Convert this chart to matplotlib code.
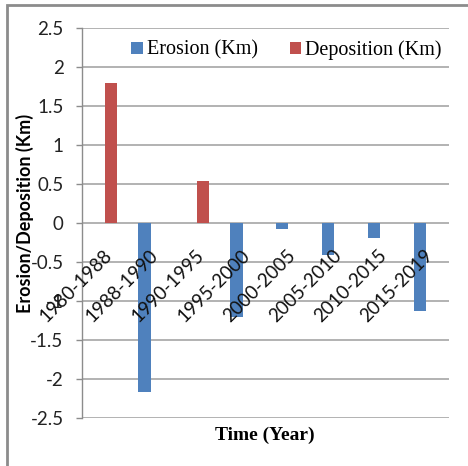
import matplotlib.pyplot as plt
import matplotlib.patches as mpatches
import numpy as np

periods = ["1980-1988", "1988-1990", "1990-1995", "1995-2000",
           "2000-2005", "2005-2010", "2010-2015", "2015-2019"]
erosion = [0, -2.17, 0, -1.21, -0.08, -0.41, -0.19, -1.13]
deposition = [1.80, 0, 0.54, 0, 0, 0, 0, 0]
y_ticks = [2.5, 2, 1.5, 1, 0.5, 0, -0.5, -1, -1.5, -2, -2.5]
y_tick_labels = ["2.5", "2", "1.5", "1", "0.5", "0", "-0.5", "-1", "-1.5", "-2", "-2.5"]

BLUE = "#4F81BD"
RED = "#C0504D"
GRID = "#A6A6A6"

fig = plt.figure(figsize=(4.68, 4.66), dpi=100)
fig.patch.set_facecolor("white")

# outer chart frame (runs off the right and bottom of the canvas)
frame = mpatches.Rectangle((7 / 468, -0.05), 1.2, 1 - 5 / 466 + 0.05,
                           transform=fig.transFigure, fill=False,
                           edgecolor="#8C8C8C", linewidth=2, clip_on=False)
fig.patches.append(frame)

ax = fig.add_axes([82 / 468, 1 - 418 / 466, 367 / 468, 390 / 466])

x = np.arange(len(periods))
w = 0.27
ax.bar(x - w / 2, erosion, width=w, color=BLUE, label="Erosion (Km)", zorder=3)
ax.bar(x + w / 2, deposition, width=w, color=RED, label="Deposition (Km)", zorder=3)

ax.set_xlim(-0.5, len(periods) - 0.5)
ax.set_ylim(-2.5, 2.5)
ax.set_yticks(y_ticks)
ax.set_yticklabels(y_tick_labels, fontfamily="Lato", fontsize=13.5, color="#222222")
ax.tick_params(axis="y", length=4.3, width=1, color="#8C8C8C", pad=9)
ax.set_xticks([])

for y in y_ticks:
    ax.axhline(y, color=GRID, linewidth=1.2, zorder=1)

for s in ["top", "right", "bottom"]:
    ax.spines[s].set_visible(False)
ax.spines["left"].set_color("#8C8C8C")
ax.spines["left"].set_linewidth(1)

# rotated category labels sitting just below the zero line
for i, lab in enumerate(periods):
    ax.annotate(lab, xy=(i, 0), xycoords="data", xytext=(3, -21),
                textcoords="offset points", rotation=45,
                rotation_mode="anchor", ha="right", va="center",
                fontfamily="Lato", fontsize=13.5, color="#111111", zorder=4)

ax.set_ylabel("Erosion/Deposition (Km)", fontfamily="Lato", fontweight="bold",
              fontsize=13)
ax.yaxis.set_label_coords(-0.132, 0.525)

fig.text(265 / 468, 1 - 435 / 466, "Time (Year)", ha="center", va="center",
         fontfamily="Liberation Serif", fontweight="bold", fontsize=14)

leg = ax.legend(loc="center", bbox_to_anchor=(0.557, 1 - 22 / 390), ncol=2,
                frameon=False, prop={"family": "Liberation Serif", "size": 14.5},
                handlelength=0.55, handleheight=0.55, handletextpad=0.2,
                columnspacing=1.6, borderaxespad=0)

fig.savefig("out.png", dpi=100, facecolor="white")
